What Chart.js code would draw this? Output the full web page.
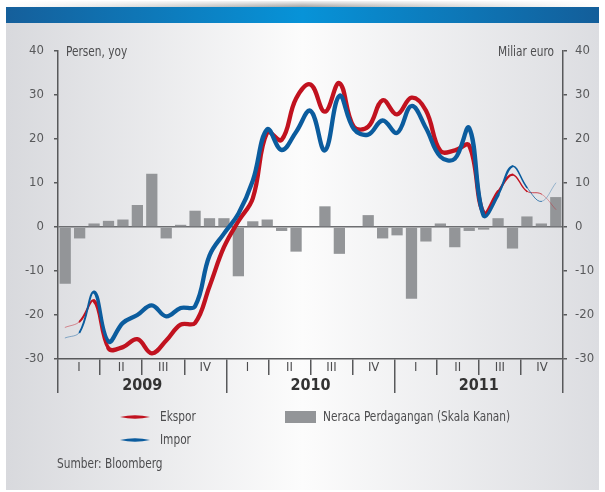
<!DOCTYPE html>
<html lang="id">
<head>
<meta charset="utf-8">
<title>Ekspor, Impor dan Neraca Perdagangan</title>
<script src="https://cdn.jsdelivr.net/npm/chart.js@4.4.1/dist/chart.umd.min.js"></script>
<style>
  html, body { margin: 0; padding: 0; background: #fff; }
  canvas { display: block; }
</style>
</head>
<body>
<canvas id="grafik" width="605" height="492"></canvas>
<script>
// data bulanan Jan 2009 - Nov 2011
const bulan = [
  'Jan 09', 'Feb 09', 'Mar 09', 'Apr 09', 'Mei 09', 'Jun 09', 'Jul 09', 'Agu 09', 'Sep 09', 'Okt 09', 'Nov 09', 'Des 09',
  'Jan 10', 'Feb 10', 'Mar 10', 'Apr 10', 'Mei 10', 'Jun 10', 'Jul 10', 'Agu 10', 'Sep 10', 'Okt 10', 'Nov 10', 'Des 10',
  'Jan 11', 'Feb 11', 'Mar 11', 'Apr 11', 'Mei 11', 'Jun 11', 'Jul 11', 'Agu 11', 'Sep 11', 'Okt 11', 'Nov 11'
];
const kuartal = ['I', 'II', 'III', 'IV', 'I', 'II', 'III', 'IV', 'I', 'II', 'III', 'IV'];
const tahun = ['2009', '2010', '2011'];
const skalaY = [-30, -20, -10, 0, 10, 20, 30, 40];

// persen, yoy
const ekspor = [
  -22.8, -21.5, -16.8, -27.6, -27.3, -25.5, -28.7, -25.8, -22.2, -21.8, -13.5, -4.6,
  1.3, 6.5, 21.5, 19.8, 29.2, 32.4, 26.2, 32.7, 22.8, 22.8, 28.8, 25.6,
  29.4, 26.5, 17.3, 17.4, 18.5, 3.2, 8.0, 11.9, 8.1, 7.5, 4.0
];
const impor = [
  -25.2, -23.9, -14.8, -26.0, -21.8, -20.0, -17.8, -20.3, -18.4, -18.0, -6.5, -1.5,
  3.0, 10.5, 22.2, 17.5, 21.6, 26.4, 17.4, 29.8, 22.3, 21.0, 24.2, 21.4,
  27.5, 22.5, 16.0, 15.5, 22.5, 2.6, 7.3, 13.8, 9.0, 5.8, 10.0
];
// miliar euro
const neraca = [
  -12.9, -2.6, 0.8, 1.4, 1.7, 5.0, 12.1, -2.6, 0.5, 3.7, 2.0, 2.0,
  -11.2, 1.3, 1.7, -0.9, -5.6, 0, 4.7, -6.1, 0, 2.7, -2.6, -1.9,
  -16.3, -3.3, 0.8, -4.6, -0.9, -0.6, 2.0, -4.9, 2.4, 0.8, 6.8
];

const HURUF = '"Liberation Sans Narrow", "DejaVu Sans Condensed", "Arial Narrow", sans-serif';
const ABU = '#58595b';
const MERAH = '#c1121f';
const BIRU = '#0b5c9e';

Chart.defaults.font.family = HURUF;
Chart.defaults.font.size = 13;
Chart.defaults.color = ABU;

// garis menipis di ujung awal dan akhir
function lebarGaris(ctx) {
  const i = ctx.p0DataIndex;
  const sisa = ctx.chart.data.labels.length - 2 - i;
  if (i === 0) return 1;
  if (i === 1) return 2;
  if (i === 2) return 3.4;
  if (sisa === 0) return 0.8;
  if (sisa === 1) return 1;
  if (sisa === 2) return 1.5;
  if (sisa === 3) return 2.2;
  if (sisa === 4) return 3.2;
  return 4.3;
}

function warnaGaris(rgb) {
  return ctx => {
    const i = ctx.p0DataIndex;
    const sisa = ctx.chart.data.labels.length - 2 - i;
    if (i === 0 || sisa === 0) return 'rgba(' + rgb + ',0.45)';
    if (sisa === 1) return 'rgba(' + rgb + ',0.75)';
    return 'rgb(' + rgb + ')';
  };
}

// teks sempit: huruf condensed dipadatkan lagi secara horizontal
function teksSempit(c, teks, x, y, rata) {
  const skala = 0.84;
  c.save();
  c.translate(x, y);
  c.scale(skala, 1);
  c.textAlign = rata;
  c.fillText(teks, 0, 0);
  c.restore();
}

const latar = {
  id: 'latar',
  beforeDraw(chart) {
    const c = chart.ctx;
    const w = chart.width, h = chart.height;
    c.save();
    c.fillStyle = '#fff';
    c.fillRect(0, 0, w, h);

    // bayangan di atas pita
    const bay = c.createLinearGradient(0, 0, w, 0);
    bay.addColorStop(0, 'rgba(170,170,170,0)');
    bay.addColorStop(0.5, 'rgba(140,140,140,0.8)');
    bay.addColorStop(1, 'rgba(170,170,170,0)');
    c.fillStyle = bay;
    c.fillRect(6, 1, w - 12, 6);
    const pudar = c.createLinearGradient(0, 0, 0, 7);
    pudar.addColorStop(0, 'rgba(255,255,255,1)');
    pudar.addColorStop(1, 'rgba(255,255,255,0)');
    c.fillStyle = pudar;
    c.fillRect(0, 0, w, 7);

    // pita biru
    const pita = c.createLinearGradient(6, 0, 599, 0);
    pita.addColorStop(0, '#155f9b');
    pita.addColorStop(0.5, '#0793d8');
    pita.addColorStop(1, '#135e9a');
    c.fillStyle = pita;
    c.fillRect(6, 7, 593, 16);

    // panel abu-abu
    const panel = c.createLinearGradient(6, 0, 599, 0);
    panel.addColorStop(0, '#d8d9dd');
    panel.addColorStop(0.5, '#fcfcfc');
    panel.addColorStop(1, '#dcdde1');
    c.fillStyle = panel;
    c.fillRect(6, 23, 593, 467);
    c.restore();
  },
  afterDraw(chart) {
    const c = chart.ctx;
    const area = chart.chartArea;
    c.save();
    c.font = '14px ' + HURUF;
    c.fillStyle = '#4d4d4f';
    c.textBaseline = 'middle';
    teksSempit(c, 'Persen, yoy', area.left + 8, area.top + 1, 'left');
    teksSempit(c, 'Miliar euro', area.right - 9, area.top + 1, 'right');

    // legenda
    const lensa = (x0, x1, y, warna) => {
      c.beginPath();
      c.moveTo(x0, y);
      c.quadraticCurveTo((x0 + x1) / 2, y - 3.4, x1, y);
      c.quadraticCurveTo((x0 + x1) / 2, y + 3.4, x0, y);
      c.closePath();
      c.fillStyle = warna;
      c.fill();
    };
    lensa(120, 150, 417, MERAH);
    lensa(120, 150, 440, BIRU);
    c.fillStyle = '#939598';
    c.fillRect(285, 411, 31, 12);

    c.fillStyle = '#4d4d4f';
    teksSempit(c, 'Ekspor', 160, 417, 'left');
    teksSempit(c, 'Impor', 160, 440, 'left');
    teksSempit(c, 'Neraca Perdagangan (Skala Kanan)', 323, 417, 'left');
    teksSempit(c, 'Sumber: Bloomberg', 57, 464, 'left');
    c.restore();
  }
};

const sumbuY = (posisi, lebar, garisNol) => ({
  type: 'linear',
  position: posisi,
  min: -30,
  max: 40,
  afterBuildTicks: s => { s.ticks = skalaY.map(v => ({ value: v })); },
  afterFit: s => { s.width = lebar; },
  border: { display: true, color: ABU, width: 1.5 },
  grid: {
    drawOnChartArea: garisNol,
    color: c => (c.tick && c.tick.value === 0 ? '#6d6e71' : 'rgba(0,0,0,0)'),
    lineWidth: 1.5,
    tickColor: ABU,
    tickLength: 4
  },
  ticks: {
    color: ABU,
    font: { size: 13 },
    padding: posisi === 'left' ? 10 : 8
  }
});

new Chart(document.getElementById('grafik'), {
  data: {
    labels: bulan,
    datasets: [
      {
        type: 'line',
        label: 'Impor',
        data: impor,
        xAxisID: 'x',
        yAxisID: 'y',
        order: 0,
        borderColor: BIRU,
        borderWidth: 4.3,
        borderCapStyle: 'round',
        borderJoinStyle: 'round',
        tension: 0.4,
        pointRadius: 0,
        segment: { borderWidth: lebarGaris, borderColor: warnaGaris('11,92,158') }
      },
      {
        type: 'line',
        label: 'Ekspor',
        data: ekspor,
        xAxisID: 'x',
        yAxisID: 'y',
        order: 1,
        borderColor: MERAH,
        borderWidth: 4.3,
        borderCapStyle: 'round',
        borderJoinStyle: 'round',
        tension: 0.4,
        pointRadius: 0,
        segment: { borderWidth: lebarGaris, borderColor: warnaGaris('193,18,31') }
      },
      {
        type: 'bar',
        label: 'Neraca Perdagangan (Skala Kanan)',
        data: neraca,
        xAxisID: 'x',
        yAxisID: 'y2',
        order: 2,
        backgroundColor: '#939598',
        barPercentage: 0.78,
        categoryPercentage: 1
      }
    ]
  },
  options: {
    responsive: false,
    devicePixelRatio: 1,
    animation: false,
    layout: { autoPadding: false, padding: { left: 6, right: 0, top: 51, bottom: 99 } },
    plugins: { legend: { display: false }, tooltip: { enabled: false } },
    scales: {
      x: { type: 'category', display: false, offset: true },
      xq: {
        type: 'category',
        labels: kuartal,
        position: 'bottom',
        offset: true,
        afterFit: s => { s.height = 16; },
        border: { display: true, color: ABU, width: 1.5 },
        grid: { offset: true, drawOnChartArea: false, color: ABU, lineWidth: 1.5, tickLength: 16 },
        ticks: { padding: -15, color: '#4d4d4f', font: { size: 13 }, autoSkip: false, maxRotation: 0 }
      },
      xt: {
        type: 'category',
        labels: tahun,
        position: 'bottom',
        offset: true,
        afterFit: s => { s.height = 18; },
        border: { display: false },
        grid: { offset: true, drawOnChartArea: false, color: ABU, lineWidth: 1.5, tickLength: 18 },
        ticks: { padding: -17, color: '#333', font: { size: 16, weight: 'bold' }, autoSkip: false, maxRotation: 0 }
      },
      y: sumbuY('left', 52, true),
      y2: sumbuY('right', 42, false)
    }
  },
  plugins: [latar]
});
</script>
</body>
</html>
